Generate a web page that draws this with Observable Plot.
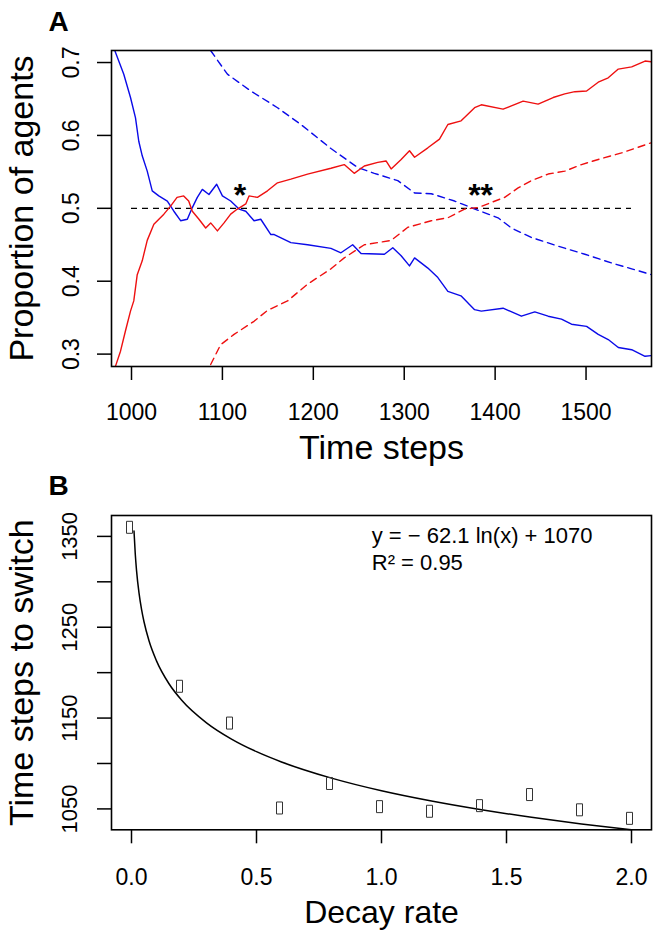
<!DOCTYPE html>
<html><head><meta charset="utf-8">
<script src="https://cdn.jsdelivr.net/npm/d3@7"></script>
<script src="https://cdn.jsdelivr.net/npm/@observablehq/plot@0.6"></script>
<style>body{margin:0;background:#fff} svg{display:block}</style>
</head><body><div id="chart"></div>
<script>
// ---------- Panel A data ----------
const blueSolid = [[981.6,0.7165],[991.5,0.684],[998.9,0.652],[1004.4,0.624],[1008,0.592],[1011.8,0.572],[1017.3,0.551],[1022.8,0.524],[1030,0.517],[1039.4,0.510],[1046.6,0.496],[1054,0.483],[1061.4,0.485],[1066.9,0.501],[1072.4,0.515],[1077.9,0.526],[1085.2,0.519],[1093.7,0.533],[1100,0.517],[1109.1,0.510],[1118.3,0.499],[1125.7,0.496],[1134.8,0.483],[1142.2,0.485],[1153.3,0.464],[1157,0.464],[1175.3,0.453],[1193.7,0.450],[1219.4,0.445],[1230.4,0.439],[1243.3,0.450],[1252.5,0.438],[1278.2,0.437],[1287.4,0.446],[1296.6,0.435],[1305.8,0.421],[1311.4,0.432],[1326,0.418],[1337,0.405],[1348,0.386],[1362.4,0.380],[1377.4,0.361],[1384.8,0.359],[1408.7,0.363],[1428.9,0.352],[1443.6,0.358],[1458.3,0.352],[1473,0.348],[1484,0.341],[1500.6,0.338],[1513.4,0.327],[1524.4,0.320],[1535.5,0.309],[1550.2,0.306],[1564.9,0.297],[1572,0.298]];
const redSolid = [[982.4,0.2835],[987.9,0.304],[993.4,0.332],[998.9,0.359],[1002.5,0.373],[1006.3,0.409],[1011.8,0.428],[1017.3,0.456],[1024.6,0.478],[1035.6,0.492],[1043,0.503],[1050.1,0.515],[1057.4,0.517],[1062.9,0.510],[1066.9,0.496],[1074.2,0.485],[1081.6,0.473],[1087.1,0.480],[1094.5,0.469],[1101.8,0.480],[1109.1,0.492],[1116.5,0.499],[1125.7,0.506],[1129.3,0.517],[1138.5,0.515],[1149.6,0.524],[1160.6,0.535],[1175.3,0.540],[1193.7,0.547],[1219.4,0.555],[1234,0.560],[1245,0.548],[1256.1,0.558],[1270.9,0.563],[1280,0.565],[1285.6,0.554],[1296.6,0.567],[1305.8,0.579],[1311.4,0.570],[1326,0.583],[1338.8,0.595],[1348,0.615],[1362.6,0.620],[1377.4,0.638],[1384.8,0.642],[1408.7,0.636],[1430.8,0.647],[1447.3,0.643],[1463.8,0.652],[1476.6,0.657],[1487.7,0.660],[1500.6,0.661],[1513.4,0.673],[1524.4,0.679],[1535.5,0.691],[1550.2,0.694],[1564.9,0.702],[1572,0.701]];
const blueDashed = [[1087,0.7165],[1105.5,0.684],[1131.2,0.661],[1160.6,0.638],[1186.3,0.615],[1219.4,0.582],[1248.8,0.556],[1267.1,0.548],[1292.9,0.538],[1311.4,0.521],[1329.7,0.520],[1355.4,0.510],[1375.6,0.500],[1403.2,0.487],[1417.9,0.473],[1439.9,0.460],[1469.4,0.448],[1498.7,0.437],[1528.1,0.425],[1550.2,0.417],[1572,0.409]];
const redDashed = [[1087.1,0.2857],[1098.1,0.313],[1112.8,0.327],[1134.8,0.345],[1149.6,0.360],[1171.7,0.373],[1193.7,0.396],[1219.4,0.417],[1234,0.432],[1256.1,0.450],[1285.6,0.456],[1304,0.474],[1329.7,0.483],[1348,0.487],[1366.4,0.499],[1381.1,0.501],[1395.8,0.508],[1410.5,0.515],[1425.3,0.528],[1439.9,0.538],[1458.3,0.547],[1476.6,0.551],[1495,0.560],[1513.4,0.567],[1539.1,0.576],[1572,0.590]];
const refLineY = [0.5];
const refLineStart = 1000, refLineEnd = 1550;
const starX = [1119.4, 1384];
const starY = [0.503, 0.503];
const starLabels = ["*", "**"];
const xTicksA = [1000, 1100, 1200, 1300, 1400, 1500];
const xTickLabelsA = ["1000", "1100", "1200", "1300", "1400", "1500"];
const yTicksA = [0.3, 0.4, 0.5, 0.6, 0.7];
const yTickLabelsA = ["0.3", "0.4", "0.5", "0.6", "0.7"];

// ---------- Panel B data ----------
const decayRate = [0, 0.2, 0.4, 0.6, 0.8, 1.0, 1.2, 1.4, 1.6, 1.8, 2.0];
const switchTime = [1360, 1185, 1144.5, 1051, 1078, 1052.5, 1047.4, 1053.6, 1065.8, 1049, 1039.6];
const fitX = [0.01, 0.015, 0.02, 0.03, 0.04, 0.05, 0.07, 0.1, 0.15, 0.2, 0.3, 0.4, 0.5, 0.6, 0.8, 1.0, 1.2, 1.4, 1.6, 1.8, 2.0];
const fitY = [1356.0, 1330.8, 1312.9, 1287.8, 1269.9, 1256.0, 1235.1, 1213.0, 1187.8, 1169.9, 1144.8, 1126.9, 1113.0, 1101.7, 1083.9, 1070.0, 1058.7, 1049.1, 1040.8, 1033.5, 1027.0];
const fitLabels = ["y = \u2212 62.1 ln(x) + 1070", "R\u00B2 = 0.95"];
const fitLabelX = [0.961, 0.961];
const fitLabelY = [1342.3, 1313.2];
const xTicksB = [0, 0.5, 1.0, 1.5, 2.0];
const xTickLabelsB = ["0.0", "0.5", "1.0", "1.5", "2.0"];
const yTicksB = [1050, 1100, 1150, 1200, 1250, 1300, 1350];
const yLabelTicksB = [1050, 1150, 1250, 1350];
const yTickLabelsB = ["1050", "1150", "1250", "1350"];

const FONT = "'Liberation Sans', Arial, Helvetica, sans-serif";
const BLUE = "#0a0ae8", RED = "#ee1010";
const pair = {x: d => d[0], y: d => d[1]};

const chartA = Plot.plot({
  width: 657, height: 470,
  marginTop: 50, marginBottom: 104, marginLeft: 111, marginRight: 6,
  style: {fontFamily: FONT, background: "white", overflow: "visible"},
  x: {domain: [978, 1572]},
  y: {domain: [0.283, 0.7165]},
  marks: [
    Plot.ruleY(refLineY, {x1: refLineStart, x2: refLineEnd, stroke: "black", strokeWidth: 1.3, strokeDasharray: "6,5"}),
    Plot.line(blueDashed, {...pair, stroke: BLUE, strokeWidth: 1.4, strokeDasharray: "7,5", clip: true}),
    Plot.line(redDashed, {...pair, stroke: RED, strokeWidth: 1.4, strokeDasharray: "7,5", clip: true}),
    Plot.line(blueSolid, {...pair, stroke: BLUE, strokeWidth: 1.4, clip: true}),
    Plot.line(redSolid, {...pair, stroke: RED, strokeWidth: 1.4, clip: true}),
    Plot.text(starLabels, {x: (d, i) => starX[i], y: (d, i) => starY[i], text: d => d, fontSize: 32, fontWeight: "bold", lineAnchor: "bottom", fill: "black"}),
    Plot.frame({stroke: "black", strokeWidth: 1.6}),
    Plot.axisX({ticks: xTicksA, tickSize: 14, tickFormat: () => "", label: null, strokeWidth: 1.5}),
    Plot.axisY({ticks: yTicksA, tickSize: 14, tickFormat: () => "", label: null, strokeWidth: 1.5}),
    Plot.text(xTicksA, {x: d => d, text: (d, i) => xTickLabelsA[i], frameAnchor: "bottom", dy: 53, lineAnchor: "bottom", fontSize: 23, fill: "black"}),
    Plot.text(yTicksA, {y: d => d, text: (d, i) => yTickLabelsA[i], frameAnchor: "left", dx: -33, rotate: -90, textAnchor: "middle", lineAnchor: "bottom", fontSize: 23, fill: "black"}),
    Plot.text(["Time steps"], {frameAnchor: "bottom", dy: 92, lineAnchor: "bottom", fontSize: 34, fill: "black"}),
    Plot.text(["Proportion of agents"], {frameAnchor: "left", dx: -79, rotate: -90, textAnchor: "middle", lineAnchor: "bottom", fontSize: 34, fill: "black"}),
    Plot.text(["A"], {frameAnchor: "top-left", dx: -63, dy: -20, textAnchor: "start", lineAnchor: "bottom", fontSize: 28, fontWeight: "bold", fill: "black"})
  ]
});

const rectSymbol = {draw(context) { context.rect(-3, -6, 6, 12); }};

const chartB = Plot.plot({
  width: 657, height: 466,
  marginTop: 45, marginBottom: 106.7, marginLeft: 111, marginRight: 6,
  style: {fontFamily: FONT, background: "white", overflow: "visible"},
  x: {domain: [-0.08, 2.08]},
  y: {domain: [1027, 1373]},
  marks: [
    Plot.line(fitX, {x: d => d, y: (d, i) => fitY[i], stroke: "black", strokeWidth: 1.5, curve: "monotone-x"}),
    Plot.dot(decayRate, {x: d => d, y: (d, i) => switchTime[i], symbol: rectSymbol, fill: "none", stroke: "#333", strokeWidth: 1, dx: -2}),
    Plot.text(fitLabels, {x: (d, i) => fitLabelX[i], y: (d, i) => fitLabelY[i], text: d => d, textAnchor: "start", lineAnchor: "bottom", fontSize: 22, fill: "black"}),
    Plot.frame({stroke: "black", strokeWidth: 1.6}),
    Plot.axisX({ticks: xTicksB, tickSize: 14, tickFormat: () => "", label: null, strokeWidth: 1.5}),
    Plot.axisY({ticks: yTicksB, tickSize: 14, tickFormat: () => "", label: null, strokeWidth: 1.5}),
    Plot.text(xTicksB, {x: d => d, text: (d, i) => xTickLabelsB[i], frameAnchor: "bottom", dy: 55, lineAnchor: "bottom", fontSize: 23, fill: "black"}),
    Plot.text(yLabelTicksB, {y: d => d, text: (d, i) => yTickLabelsB[i], frameAnchor: "left", dx: -35, rotate: -90, textAnchor: "middle", lineAnchor: "bottom", fontSize: 22, fill: "black"}),
    Plot.text(["Decay rate"], {frameAnchor: "bottom", dy: 92.7, lineAnchor: "bottom", fontSize: 32, fill: "black"}),
    Plot.text(["Time steps to switch"], {frameAnchor: "left", dx: -79, rotate: -90, textAnchor: "middle", lineAnchor: "bottom", fontSize: 34, fill: "black"}),
    Plot.text(["B"], {frameAnchor: "top-left", dx: -63, dy: -21, textAnchor: "start", lineAnchor: "bottom", fontSize: 28, fontWeight: "bold", fill: "black"})
  ]
});

const root = document.getElementById("chart");
root.appendChild(chartA);
root.appendChild(chartB);
</script>
</body></html>
